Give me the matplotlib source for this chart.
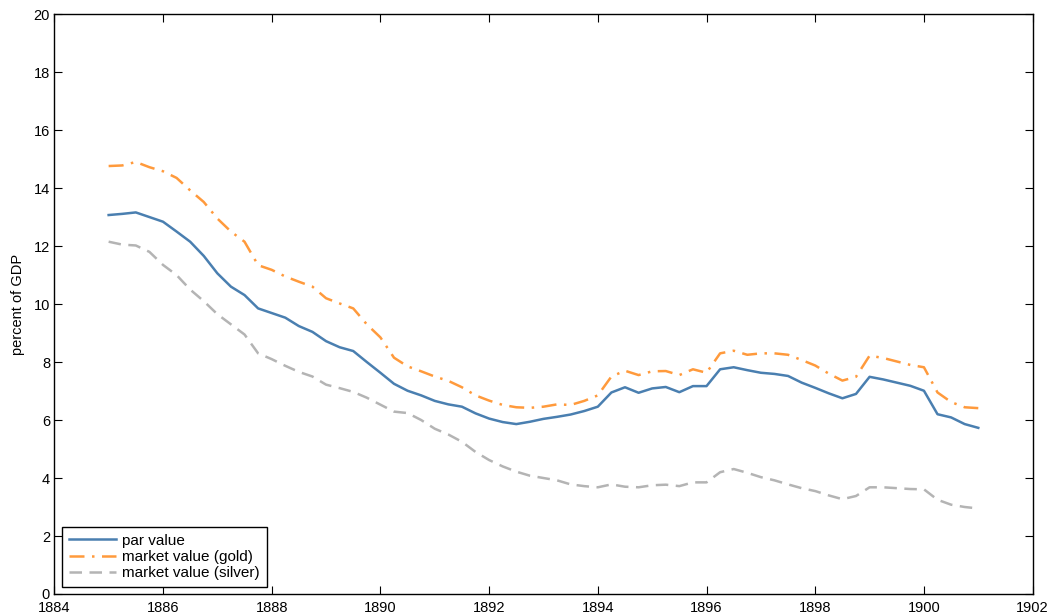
import numpy as np
import matplotlib
matplotlib.use("Agg")
import matplotlib.pyplot as plt

# ================= DATA =================
# quarterly observations, 1885Q1 .. 1901Q1
years = 1885 + 0.25 * np.arange(65)

par_value = [
    13.07, 13.11, 13.16, 13.00, 12.84, 12.50, 12.15, 11.66,
    11.06, 10.60, 10.31, 9.85, 9.69, 9.53, 9.24, 9.04,
    8.72, 8.51, 8.38, 8.00, 7.63, 7.25, 7.01, 6.85,
    6.66, 6.54, 6.46, 6.23, 6.05, 5.93, 5.86, 5.94,
    6.04, 6.11, 6.19, 6.31, 6.46, 6.95, 7.13, 6.94,
    7.09, 7.14, 6.96, 7.17, 7.17, 7.75, 7.82, 7.72,
    7.63, 7.59, 7.52, 7.29, 7.11, 6.92, 6.75, 6.90,
    7.49, 7.40, 7.29, 7.18, 7.01, 6.20, 6.09, 5.86,
    5.73,
]

market_gold = [
    14.76, 14.78, 14.90, 14.72, 14.58, 14.35, 13.92, 13.52,
    12.95, 12.50, 12.15, 11.34, 11.18, 10.95, 10.77, 10.60,
    10.20, 10.02, 9.85, 9.30, 8.85, 8.15, 7.85, 7.68,
    7.50, 7.35, 7.13, 6.85, 6.67, 6.52, 6.44, 6.42,
    6.46, 6.54, 6.52, 6.66, 6.85, 7.50, 7.70, 7.55,
    7.68, 7.69, 7.55, 7.75, 7.63, 8.30, 8.39, 8.25,
    8.30, 8.30, 8.25, 8.07, 7.88, 7.60, 7.36, 7.49,
    8.22, 8.14, 8.02, 7.90, 7.82, 6.95, 6.62, 6.44,
    6.41,
]

market_silver = [
    12.15, 12.05, 12.02, 11.80, 11.35, 11.00, 10.50, 10.10,
    9.65, 9.30, 8.95, 8.30, 8.10, 7.87, 7.66, 7.50,
    7.22, 7.10, 6.97, 6.77, 6.53, 6.29, 6.24, 6.00,
    5.70, 5.50, 5.25, 4.90, 4.62, 4.40, 4.22, 4.08,
    4.00, 3.92, 3.78, 3.72, 3.68, 3.78, 3.70, 3.68,
    3.75, 3.77, 3.72, 3.85, 3.85, 4.20, 4.31, 4.18,
    4.03, 3.92, 3.78, 3.65, 3.55, 3.40, 3.27, 3.38,
    3.68, 3.68, 3.65, 3.62, 3.61, 3.25, 3.08, 3.00,
    2.95,
]

x_ticks = list(range(1884, 1903, 2))
y_ticks = list(range(0, 21, 2))
# ========================================

plt.rcParams["font.family"] = ["Liberation Sans", "DejaVu Sans"]
plt.rcParams["font.size"] = 10.5

fig = plt.figure(figsize=(10.52, 6.13), dpi=100)
ax = fig.add_axes([0.0516, 0.031, 0.93, 0.946])

ax.plot(years, par_value, color="#4A7FB0", lw=1.8, label="par value")
ax.plot(years, market_gold, color="#FF9A3C", lw=1.8,
        dashes=[6, 3, 1, 3], label="market value (gold)")
ax.plot(years, market_silver, color="#B4B4B4", lw=1.8,
        dashes=[5, 3], label="market value (silver)")

ax.set_xlim(1884, 1902)
ax.set_ylim(0, 20)
ax.set_xticks(x_ticks)
ax.set_yticks(y_ticks)
ax.tick_params(direction="in", top=True, right=True, length=6, width=0.8, pad=3)
ax.tick_params(axis="x", pad=5)
for s in ax.spines.values():
    s.set_linewidth(1.0)
ax.set_ylabel("percent of GDP", labelpad=6)

leg = ax.legend(loc="lower left", bbox_to_anchor=(0.008, 0.012), frameon=True,
                fancybox=False, framealpha=1, edgecolor="black", fontsize=11,
                handlelength=3.1, borderpad=0.45, labelspacing=0.15,
                handletextpad=0.4, borderaxespad=0)
leg.get_frame().set_linewidth(1.0)

fig.savefig("out.png", dpi=100)
